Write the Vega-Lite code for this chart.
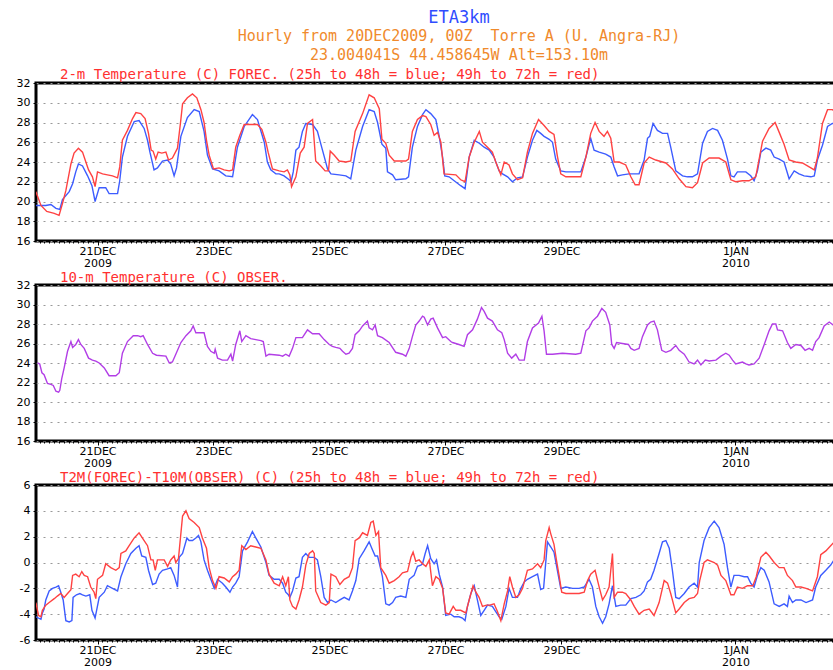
{
  "$schema": "https://vega.github.io/schema/vega-lite/v6.json",
  "background": "white",
  "padding": {"left": 0, "top": 8, "right": 0, "bottom": 0},
  "title": {
    "text": "ETA3km",
    "subtitle": ["Hourly from 20DEC2009, 00Z\u00a0 Torre A (U. Angra-RJ)", "23.004041S 44.458645W Alt=153.10m"],
    "anchor": "middle",
    "dx": 40,
    "color": "#2f4cff",
    "font": "DejaVu Sans Mono",
    "fontSize": 17,
    "fontWeight": "normal",
    "subtitleColor": "#f08a2c",
    "subtitleFont": "DejaVu Sans Mono",
    "subtitleFontSize": 15,
    "subtitleLineHeight": 19,
    "subtitlePadding": 2,
    "offset": 3
  },
  "datasets": {
    "t2m": [
      {"s":"25h to 48h","h":-1.5,"v":19.6},{"s":"25h to 48h","h":2.6,"v":19.6},{"s":"25h to 48h","h":4.7,"v":19.7},{"s":"25h to 48h","h":6.8,"v":19.3},{"s":"25h to 48h","h":8.4,"v":19.2},{"s":"25h to 48h","h":9.5,"v":20.2},{"s":"25h to 48h","h":12.3,"v":21.0},{"s":"25h to 48h","h":13.7,"v":21.8},{"s":"25h to 48h","h":15.0,"v":23.0},{"s":"25h to 48h","h":16.1,"v":23.8},{"s":"25h to 48h","h":17.8,"v":23.6},{"s":"25h to 48h","h":19.9,"v":22.6},{"s":"25h to 48h","h":21.7,"v":21.6},{"s":"25h to 48h","h":23.0,"v":20.0},{"s":"25h to 48h","h":24.7,"v":21.4},{"s":"25h to 48h","h":27.4,"v":21.4},{"s":"25h to 48h","h":28.8,"v":20.8},{"s":"25h to 48h","h":32.3,"v":20.8},{"s":"25h to 48h","h":33.2,"v":22.1},{"s":"25h to 48h","h":34.3,"v":24.5},{"s":"25h to 48h","h":36.4,"v":26.6},{"s":"25h to 48h","h":39.2,"v":28.1},{"s":"25h to 48h","h":41.2,"v":28.2},{"s":"25h to 48h","h":43.3,"v":27.4},{"s":"25h to 48h","h":44.7,"v":26.2},{"s":"25h to 48h","h":45.7,"v":25.0},{"s":"25h to 48h","h":47.4,"v":23.2},{"s":"25h to 48h","h":48.8,"v":23.4},{"s":"25h to 48h","h":50.9,"v":24.1},{"s":"25h to 48h","h":53.0,"v":24.2},{"s":"25h to 48h","h":54.3,"v":23.8},{"s":"25h to 48h","h":55.7,"v":22.6},{"s":"25h to 48h","h":56.7,"v":23.4},{"s":"25h to 48h","h":58.5,"v":26.6},{"s":"25h to 48h","h":61.2,"v":28.5},{"s":"25h to 48h","h":64.0,"v":29.3},{"s":"25h to 48h","h":66.1,"v":29.1},{"s":"25h to 48h","h":68.1,"v":27.1},{"s":"25h to 48h","h":69.5,"v":24.7},{"s":"25h to 48h","h":71.6,"v":23.3},{"s":"25h to 48h","h":74.3,"v":23.1},{"s":"25h to 48h","h":77.1,"v":22.6},{"s":"25h to 48h","h":79.9,"v":22.5},{"s":"25h to 48h","h":81.9,"v":25.5},{"s":"25h to 48h","h":84.7,"v":27.6},{"s":"25h to 48h","h":88.1,"v":28.8},{"s":"25h to 48h","h":90.2,"v":28.3},{"s":"25h to 48h","h":93.0,"v":26.0},{"s":"25h to 48h","h":94.3,"v":24.0},{"s":"25h to 48h","h":95.7,"v":23.2},{"s":"25h to 48h","h":97.8,"v":22.8},{"s":"25h to 48h","h":99.2,"v":22.8},{"s":"25h to 48h","h":101.2,"v":22.6},{"s":"25h to 48h","h":103.3,"v":22.2},{"s":"25h to 48h","h":104.1,"v":22.0},{"s":"25h to 48h","h":105.0,"v":23.0},{"s":"25h to 48h","h":106.1,"v":25.2},{"s":"25h to 48h","h":107.4,"v":25.5},{"s":"25h to 48h","h":108.8,"v":27.1},{"s":"25h to 48h","h":110.2,"v":27.9},{"s":"25h to 48h","h":113.0,"v":27.8},{"s":"25h to 48h","h":115.0,"v":27.1},{"s":"25h to 48h","h":117.1,"v":25.2},{"s":"25h to 48h","h":119.2,"v":23.3},{"s":"25h to 48h","h":120.6,"v":22.8},{"s":"25h to 48h","h":124.0,"v":22.7},{"s":"25h to 48h","h":126.8,"v":22.6},{"s":"25h to 48h","h":128.8,"v":22.3},{"s":"25h to 48h","h":130.9,"v":25.2},{"s":"25h to 48h","h":133.7,"v":27.6},{"s":"25h to 48h","h":136.4,"v":29.3},{"s":"25h to 48h","h":138.5,"v":29.1},{"s":"25h to 48h","h":139.9,"v":28.0},{"s":"25h to 48h","h":141.7,"v":25.8},{"s":"25h to 48h","h":143.3,"v":25.4},{"s":"25h to 48h","h":144.0,"v":23.0},{"s":"25h to 48h","h":146.1,"v":22.7},{"s":"25h to 48h","h":147.4,"v":22.2},{"s":"25h to 48h","h":151.6,"v":22.3},{"s":"25h to 48h","h":152.7,"v":22.5},{"s":"25h to 48h","h":154.3,"v":25.5},{"s":"25h to 48h","h":156.4,"v":27.6},{"s":"25h to 48h","h":158.5,"v":28.8},{"s":"25h to 48h","h":159.9,"v":29.3},{"s":"25h to 48h","h":161.9,"v":28.9},{"s":"25h to 48h","h":164.0,"v":28.3},{"s":"25h to 48h","h":165.4,"v":26.6},{"s":"25h to 48h","h":166.8,"v":24.5},{"s":"25h to 48h","h":167.7,"v":22.6},{"s":"25h to 48h","h":169.5,"v":22.5},{"s":"25h to 48h","h":171.6,"v":22.1},{"s":"25h to 48h","h":174.3,"v":21.6},{"s":"25h to 48h","h":176.1,"v":21.3},{"s":"25h to 48h","h":177.8,"v":24.5},{"s":"25h to 48h","h":179.9,"v":26.2},{"s":"25h to 48h","h":182.0,"v":25.9},{"s":"25h to 48h","h":184.0,"v":25.5},{"s":"25h to 48h","h":186.1,"v":25.2},{"s":"25h to 48h","h":188.1,"v":24.5},{"s":"25h to 48h","h":190.2,"v":23.1},{"s":"25h to 48h","h":191.6,"v":22.8},{"s":"25h to 48h","h":193.7,"v":22.5},{"s":"25h to 48h","h":195.7,"v":22.0},{"s":"25h to 48h","h":197.8,"v":22.4},{"s":"25h to 48h","h":199.9,"v":22.5},{"s":"25h to 48h","h":201.9,"v":24.5},{"s":"25h to 48h","h":204.0,"v":26.2},{"s":"25h to 48h","h":205.8,"v":27.2},{"s":"25h to 48h","h":207.4,"v":26.9},{"s":"25h to 48h","h":208.8,"v":26.6},{"s":"25h to 48h","h":210.9,"v":26.3},{"s":"25h to 48h","h":212.3,"v":26.0},{"s":"25h to 48h","h":213.6,"v":24.3},{"s":"25h to 48h","h":215.7,"v":23.1},{"s":"25h to 48h","h":217.8,"v":23.0},{"s":"25h to 48h","h":220.6,"v":23.0},{"s":"25h to 48h","h":224.0,"v":23.0},{"s":"25h to 48h","h":226.1,"v":24.5},{"s":"25h to 48h","h":228.1,"v":26.4},{"s":"25h to 48h","h":229.5,"v":25.2},{"s":"25h to 48h","h":231.6,"v":25.0},{"s":"25h to 48h","h":234.3,"v":24.8},{"s":"25h to 48h","h":236.4,"v":24.5},{"s":"25h to 48h","h":237.8,"v":23.5},{"s":"25h to 48h","h":239.2,"v":22.6},{"s":"25h to 48h","h":241.2,"v":22.7},{"s":"25h to 48h","h":244.0,"v":22.8},{"s":"25h to 48h","h":248.1,"v":22.8},{"s":"25h to 48h","h":250.2,"v":24.2},{"s":"25h to 48h","h":251.6,"v":26.4},{"s":"25h to 48h","h":252.5,"v":26.6},{"s":"25h to 48h","h":253.9,"v":27.9},{"s":"25h to 48h","h":255.7,"v":27.2},{"s":"25h to 48h","h":257.8,"v":26.9},{"s":"25h to 48h","h":259.9,"v":26.9},{"s":"25h to 48h","h":261.2,"v":25.5},{"s":"25h to 48h","h":263.3,"v":23.1},{"s":"25h to 48h","h":266.1,"v":22.6},{"s":"25h to 48h","h":268.1,"v":22.5},{"s":"25h to 48h","h":270.2,"v":22.5},{"s":"25h to 48h","h":272.3,"v":22.8},{"s":"25h to 48h","h":274.4,"v":25.9},{"s":"25h to 48h","h":276.4,"v":27.1},{"s":"25h to 48h","h":278.5,"v":27.4},{"s":"25h to 48h","h":280.6,"v":27.2},{"s":"25h to 48h","h":282.6,"v":26.2},{"s":"25h to 48h","h":284.7,"v":24.3},{"s":"25h to 48h","h":286.1,"v":22.6},{"s":"25h to 48h","h":287.4,"v":22.5},{"s":"25h to 48h","h":288.8,"v":23.0},{"s":"25h to 48h","h":292.3,"v":23.0},{"s":"25h to 48h","h":294.3,"v":22.6},{"s":"25h to 48h","h":295.7,"v":22.1},{"s":"25h to 48h","h":297.1,"v":23.1},{"s":"25h to 48h","h":298.5,"v":25.0},{"s":"25h to 48h","h":300.6,"v":25.4},{"s":"25h to 48h","h":302.6,"v":25.2},{"s":"25h to 48h","h":304.0,"v":24.5},{"s":"25h to 48h","h":306.1,"v":24.3},{"s":"25h to 48h","h":308.1,"v":24.0},{"s":"25h to 48h","h":310.2,"v":22.3},{"s":"25h to 48h","h":312.3,"v":23.1},{"s":"25h to 48h","h":314.3,"v":22.8},{"s":"25h to 48h","h":316.4,"v":22.6},{"s":"25h to 48h","h":319.2,"v":22.5},{"s":"25h to 48h","h":320.6,"v":22.6},{"s":"25h to 48h","h":321.9,"v":24.2},{"s":"25h to 48h","h":324.0,"v":25.7},{"s":"25h to 48h","h":326.1,"v":27.6},{"s":"25h to 48h","h":328.1,"v":27.9},{"s":"25h to 48h","h":329.4,"v":27.9},
      {"s":"49h to 72h","h":-1.5,"v":21.0},{"s":"49h to 72h","h":0.6,"v":19.6},{"s":"49h to 72h","h":3.0,"v":19.0},{"s":"49h to 72h","h":6.1,"v":18.8},{"s":"49h to 72h","h":8.1,"v":18.6},{"s":"49h to 72h","h":9.5,"v":19.8},{"s":"49h to 72h","h":10.9,"v":21.1},{"s":"49h to 72h","h":13.0,"v":23.8},{"s":"49h to 72h","h":14.3,"v":24.9},{"s":"49h to 72h","h":16.1,"v":25.4},{"s":"49h to 72h","h":17.8,"v":25.0},{"s":"49h to 72h","h":18.9,"v":24.2},{"s":"49h to 72h","h":20.3,"v":23.2},{"s":"49h to 72h","h":21.9,"v":22.5},{"s":"49h to 72h","h":23.0,"v":21.5},{"s":"49h to 72h","h":24.0,"v":23.0},{"s":"49h to 72h","h":26.1,"v":22.8},{"s":"49h to 72h","h":28.1,"v":22.7},{"s":"49h to 72h","h":30.2,"v":22.6},{"s":"49h to 72h","h":32.3,"v":22.4},{"s":"49h to 72h","h":33.2,"v":23.5},{"s":"49h to 72h","h":34.3,"v":26.2},{"s":"49h to 72h","h":36.4,"v":27.2},{"s":"49h to 72h","h":38.5,"v":28.4},{"s":"49h to 72h","h":39.9,"v":29.0},{"s":"49h to 72h","h":41.9,"v":28.9},{"s":"49h to 72h","h":43.7,"v":28.4},{"s":"49h to 72h","h":45.1,"v":26.9},{"s":"49h to 72h","h":46.2,"v":25.2},{"s":"49h to 72h","h":47.0,"v":25.1},{"s":"49h to 72h","h":48.1,"v":24.3},{"s":"49h to 72h","h":49.1,"v":25.0},{"s":"49h to 72h","h":50.6,"v":24.9},{"s":"49h to 72h","h":52.3,"v":25.0},{"s":"49h to 72h","h":53.4,"v":24.2},{"s":"49h to 72h","h":55.0,"v":24.4},{"s":"49h to 72h","h":57.1,"v":25.4},{"s":"49h to 72h","h":58.5,"v":28.3},{"s":"49h to 72h","h":59.2,"v":29.9},{"s":"49h to 72h","h":61.2,"v":30.5},{"s":"49h to 72h","h":63.3,"v":30.9},{"s":"49h to 72h","h":65.1,"v":30.5},{"s":"49h to 72h","h":66.8,"v":29.3},{"s":"49h to 72h","h":68.1,"v":28.0},{"s":"49h to 72h","h":69.1,"v":26.2},{"s":"49h to 72h","h":70.2,"v":24.7},{"s":"49h to 72h","h":72.0,"v":23.3},{"s":"49h to 72h","h":74.3,"v":23.4},{"s":"49h to 72h","h":76.4,"v":23.2},{"s":"49h to 72h","h":78.5,"v":23.1},{"s":"49h to 72h","h":79.9,"v":23.2},{"s":"49h to 72h","h":81.2,"v":25.5},{"s":"49h to 72h","h":82.9,"v":26.7},{"s":"49h to 72h","h":84.7,"v":27.8},{"s":"49h to 72h","h":87.4,"v":27.8},{"s":"49h to 72h","h":90.2,"v":27.8},{"s":"49h to 72h","h":92.0,"v":27.3},{"s":"49h to 72h","h":93.7,"v":26.0},{"s":"49h to 72h","h":94.6,"v":25.0},{"s":"49h to 72h","h":96.4,"v":23.3},{"s":"49h to 72h","h":99.2,"v":23.1},{"s":"49h to 72h","h":101.2,"v":23.0},{"s":"49h to 72h","h":102.6,"v":23.2},{"s":"49h to 72h","h":103.6,"v":22.7},{"s":"49h to 72h","h":104.3,"v":21.5},{"s":"49h to 72h","h":106.1,"v":22.5},{"s":"49h to 72h","h":107.9,"v":24.9},{"s":"49h to 72h","h":109.5,"v":25.5},{"s":"49h to 72h","h":110.9,"v":27.9},{"s":"49h to 72h","h":113.0,"v":28.3},{"s":"49h to 72h","h":114.3,"v":24.1},{"s":"49h to 72h","h":116.4,"v":23.6},{"s":"49h to 72h","h":118.2,"v":23.1},{"s":"49h to 72h","h":119.6,"v":23.1},{"s":"49h to 72h","h":120.3,"v":25.1},{"s":"49h to 72h","h":121.9,"v":24.7},{"s":"49h to 72h","h":124.0,"v":24.1},{"s":"49h to 72h","h":126.8,"v":24.0},{"s":"49h to 72h","h":128.8,"v":24.1},{"s":"49h to 72h","h":130.6,"v":27.1},{"s":"49h to 72h","h":133.7,"v":28.9},{"s":"49h to 72h","h":136.4,"v":30.8},{"s":"49h to 72h","h":138.5,"v":30.5},{"s":"49h to 72h","h":140.6,"v":29.4},{"s":"49h to 72h","h":141.7,"v":26.3},{"s":"49h to 72h","h":143.3,"v":25.9},{"s":"49h to 72h","h":144.7,"v":24.7},{"s":"49h to 72h","h":146.8,"v":24.1},{"s":"49h to 72h","h":151.6,"v":24.1},{"s":"49h to 72h","h":152.7,"v":24.3},{"s":"49h to 72h","h":154.3,"v":27.1},{"s":"49h to 72h","h":156.4,"v":28.3},{"s":"49h to 72h","h":158.5,"v":28.7},{"s":"49h to 72h","h":159.9,"v":28.6},{"s":"49h to 72h","h":161.9,"v":27.8},{"s":"49h to 72h","h":163.3,"v":26.7},{"s":"49h to 72h","h":164.7,"v":27.0},{"s":"49h to 72h","h":166.1,"v":26.0},{"s":"49h to 72h","h":167.4,"v":22.8},{"s":"49h to 72h","h":172.3,"v":22.7},{"s":"49h to 72h","h":174.3,"v":22.2},{"s":"49h to 72h","h":176.1,"v":22.0},{"s":"49h to 72h","h":177.8,"v":24.5},{"s":"49h to 72h","h":179.9,"v":26.0},{"s":"49h to 72h","h":182.0,"v":27.1},{"s":"49h to 72h","h":183.3,"v":26.0},{"s":"49h to 72h","h":185.4,"v":25.5},{"s":"49h to 72h","h":187.4,"v":25.0},{"s":"49h to 72h","h":188.8,"v":24.0},{"s":"49h to 72h","h":190.9,"v":22.7},{"s":"49h to 72h","h":192.3,"v":24.0},{"s":"49h to 72h","h":194.3,"v":23.7},{"s":"49h to 72h","h":195.7,"v":22.8},{"s":"49h to 72h","h":197.8,"v":22.2},{"s":"49h to 72h","h":199.9,"v":22.4},{"s":"49h to 72h","h":201.9,"v":25.0},{"s":"49h to 72h","h":204.0,"v":26.9},{"s":"49h to 72h","h":206.5,"v":28.3},{"s":"49h to 72h","h":208.8,"v":27.7},{"s":"49h to 72h","h":210.9,"v":27.1},{"s":"49h to 72h","h":212.9,"v":26.8},{"s":"49h to 72h","h":214.3,"v":24.6},{"s":"49h to 72h","h":215.7,"v":22.8},{"s":"49h to 72h","h":217.8,"v":22.5},{"s":"49h to 72h","h":220.6,"v":22.5},{"s":"49h to 72h","h":224.0,"v":22.5},{"s":"49h to 72h","h":226.1,"v":24.5},{"s":"49h to 72h","h":228.1,"v":26.9},{"s":"49h to 72h","h":229.9,"v":28.0},{"s":"49h to 72h","h":231.6,"v":27.1},{"s":"49h to 72h","h":233.6,"v":26.6},{"s":"49h to 72h","h":235.0,"v":27.1},{"s":"49h to 72h","h":236.4,"v":26.4},{"s":"49h to 72h","h":237.8,"v":24.0},{"s":"49h to 72h","h":239.9,"v":24.0},{"s":"49h to 72h","h":242.6,"v":23.7},{"s":"49h to 72h","h":244.7,"v":22.5},{"s":"49h to 72h","h":246.5,"v":21.7},{"s":"49h to 72h","h":248.1,"v":21.7},{"s":"49h to 72h","h":250.2,"v":23.9},{"s":"49h to 72h","h":252.3,"v":24.5},{"s":"49h to 72h","h":255.0,"v":24.2},{"s":"49h to 72h","h":259.2,"v":23.9},{"s":"49h to 72h","h":261.9,"v":23.3},{"s":"49h to 72h","h":264.7,"v":22.3},{"s":"49h to 72h","h":267.5,"v":21.5},{"s":"49h to 72h","h":270.2,"v":21.4},{"s":"49h to 72h","h":272.3,"v":21.9},{"s":"49h to 72h","h":274.4,"v":23.9},{"s":"49h to 72h","h":277.1,"v":24.4},{"s":"49h to 72h","h":281.2,"v":24.4},{"s":"49h to 72h","h":284.0,"v":24.0},{"s":"49h to 72h","h":286.1,"v":22.2},{"s":"49h to 72h","h":288.1,"v":22.0},{"s":"49h to 72h","h":290.9,"v":22.1},{"s":"49h to 72h","h":293.6,"v":22.1},{"s":"49h to 72h","h":296.4,"v":22.5},{"s":"49h to 72h","h":299.2,"v":26.1},{"s":"49h to 72h","h":301.9,"v":27.4},{"s":"49h to 72h","h":304.4,"v":28.0},{"s":"49h to 72h","h":306.1,"v":27.0},{"s":"49h to 72h","h":308.1,"v":25.8},{"s":"49h to 72h","h":310.2,"v":24.2},{"s":"49h to 72h","h":312.9,"v":24.0},{"s":"49h to 72h","h":315.7,"v":23.9},{"s":"49h to 72h","h":318.5,"v":23.5},{"s":"49h to 72h","h":320.6,"v":23.2},{"s":"49h to 72h","h":321.9,"v":24.4},{"s":"49h to 72h","h":324.0,"v":27.9},{"s":"49h to 72h","h":326.1,"v":29.3},{"s":"49h to 72h","h":328.1,"v":29.3},{"s":"49h to 72h","h":329.4,"v":29.1}
    ],
    "t10m": [
      {"h":-0.8,"v":24.0},{"h":0.1,"v":23.9},{"h":1.0,"v":23.0},{"h":1.9,"v":22.8},{"h":3.3,"v":21.9},{"h":4.7,"v":21.8},{"h":5.7,"v":21.7},{"h":6.8,"v":21.1},{"h":7.9,"v":21.0},{"h":8.4,"v":21.2},{"h":9.2,"v":22.4},{"h":10.2,"v":23.5},{"h":11.6,"v":25.2},{"h":13.0,"v":26.2},{"h":13.7,"v":25.6},{"h":15.0,"v":25.9},{"h":16.1,"v":26.4},{"h":17.1,"v":25.9},{"h":18.5,"v":25.5},{"h":20.3,"v":24.5},{"h":21.9,"v":24.3},{"h":23.3,"v":24.2},{"h":24.7,"v":24.0},{"h":26.8,"v":23.5},{"h":28.8,"v":22.7},{"h":31.6,"v":22.7},{"h":33.0,"v":23.0},{"h":34.3,"v":25.0},{"h":36.4,"v":26.2},{"h":38.8,"v":26.8},{"h":40.6,"v":26.8},{"h":41.9,"v":26.7},{"h":42.9,"v":26.8},{"h":44.7,"v":25.9},{"h":46.8,"v":25.0},{"h":48.4,"v":24.8},{"h":52.3,"v":24.7},{"h":53.7,"v":24.0},{"h":55.0,"v":24.1},{"h":56.4,"v":24.9},{"h":58.5,"v":26.1},{"h":60.6,"v":26.8},{"h":62.6,"v":27.3},{"h":63.6,"v":27.8},{"h":64.7,"v":27.1},{"h":66.8,"v":27.1},{"h":68.1,"v":27.1},{"h":69.5,"v":25.7},{"h":70.9,"v":25.2},{"h":72.3,"v":25.0},{"h":72.7,"v":25.4},{"h":73.7,"v":24.5},{"h":75.7,"v":24.3},{"h":77.8,"v":24.3},{"h":79.2,"v":24.9},{"h":79.9,"v":24.2},{"h":81.2,"v":25.9},{"h":82.9,"v":27.3},{"h":83.7,"v":26.2},{"h":85.4,"v":26.8},{"h":87.4,"v":26.5},{"h":89.5,"v":26.4},{"h":91.6,"v":26.3},{"h":92.6,"v":26.2},{"h":93.7,"v":24.7},{"h":95.0,"v":24.9},{"h":99.2,"v":24.8},{"h":100.6,"v":24.7},{"h":101.9,"v":24.9},{"h":103.3,"v":24.7},{"h":104.7,"v":25.5},{"h":106.1,"v":26.6},{"h":108.8,"v":26.6},{"h":110.9,"v":27.4},{"h":113.0,"v":27.0},{"h":115.7,"v":27.0},{"h":117.8,"v":26.4},{"h":119.9,"v":25.9},{"h":121.2,"v":25.7},{"h":122.6,"v":25.6},{"h":124.3,"v":25.5},{"h":125.4,"v":25.2},{"h":126.8,"v":24.9},{"h":128.1,"v":25.0},{"h":129.5,"v":25.5},{"h":130.6,"v":26.9},{"h":132.3,"v":27.3},{"h":133.7,"v":27.8},{"h":135.7,"v":28.3},{"h":136.4,"v":27.6},{"h":137.8,"v":27.4},{"h":138.9,"v":27.9},{"h":139.9,"v":26.8},{"h":141.9,"v":26.6},{"h":144.7,"v":26.1},{"h":147.4,"v":25.1},{"h":150.2,"v":24.9},{"h":151.6,"v":24.7},{"h":153.0,"v":25.5},{"h":154.3,"v":26.7},{"h":155.7,"v":27.9},{"h":157.1,"v":28.3},{"h":158.5,"v":28.8},{"h":159.2,"v":28.7},{"h":160.6,"v":27.9},{"h":161.9,"v":28.5},{"h":162.9,"v":28.6},{"h":164.7,"v":27.6},{"h":166.8,"v":26.6},{"h":168.1,"v":26.7},{"h":170.2,"v":26.2},{"h":170.9,"v":26.1},{"h":173.6,"v":25.9},{"h":175.7,"v":25.7},{"h":177.1,"v":26.9},{"h":179.2,"v":27.4},{"h":181.2,"v":28.5},{"h":182.9,"v":29.7},{"h":184.0,"v":29.3},{"h":185.4,"v":28.6},{"h":187.4,"v":28.3},{"h":189.5,"v":27.4},{"h":191.3,"v":27.1},{"h":192.3,"v":26.4},{"h":193.7,"v":25.0},{"h":195.4,"v":24.5},{"h":197.1,"v":24.9},{"h":198.5,"v":24.3},{"h":200.6,"v":24.3},{"h":201.9,"v":26.2},{"h":204.0,"v":27.6},{"h":206.5,"v":28.1},{"h":207.9,"v":28.8},{"h":208.8,"v":27.3},{"h":209.8,"v":24.9},{"h":212.3,"v":24.9},{"h":216.4,"v":25.0},{"h":221.9,"v":24.9},{"h":224.0,"v":25.0},{"h":226.1,"v":27.3},{"h":227.4,"v":27.6},{"h":228.8,"v":28.3},{"h":230.9,"v":28.8},{"h":232.7,"v":29.6},{"h":234.3,"v":29.2},{"h":236.0,"v":27.9},{"h":236.8,"v":25.9},{"h":237.8,"v":25.5},{"h":238.8,"v":26.1},{"h":241.2,"v":26.0},{"h":243.7,"v":25.9},{"h":244.7,"v":25.5},{"h":246.1,"v":25.3},{"h":248.1,"v":25.5},{"h":249.5,"v":26.7},{"h":251.6,"v":27.9},{"h":252.9,"v":28.2},{"h":254.3,"v":28.3},{"h":255.7,"v":27.4},{"h":257.5,"v":25.3},{"h":259.2,"v":25.1},{"h":261.2,"v":25.3},{"h":263.3,"v":25.8},{"h":264.7,"v":25.3},{"h":266.8,"v":24.9},{"h":268.8,"v":24.1},{"h":270.9,"v":23.9},{"h":272.3,"v":24.3},{"h":273.7,"v":23.8},{"h":275.5,"v":24.3},{"h":277.1,"v":24.2},{"h":279.9,"v":24.3},{"h":282.0,"v":24.7},{"h":284.0,"v":25.0},{"h":285.4,"v":24.8},{"h":286.8,"v":24.3},{"h":288.1,"v":23.9},{"h":289.5,"v":24.0},{"h":290.9,"v":24.1},{"h":292.3,"v":23.9},{"h":293.6,"v":23.8},{"h":295.7,"v":23.9},{"h":297.8,"v":24.5},{"h":299.9,"v":25.9},{"h":301.9,"v":27.3},{"h":303.3,"v":28.0},{"h":304.7,"v":28.0},{"h":305.4,"v":27.4},{"h":307.5,"v":27.3},{"h":309.5,"v":26.1},{"h":310.9,"v":25.5},{"h":313.0,"v":25.9},{"h":315.1,"v":25.8},{"h":316.8,"v":25.3},{"h":318.5,"v":25.5},{"h":319.9,"v":25.3},{"h":321.2,"v":26.2},{"h":322.6,"v":26.6},{"h":324.7,"v":27.8},{"h":326.8,"v":28.2},{"h":328.4,"v":27.9},{"h":329.4,"v":27.7}
    ],
    "diff": [
      {"s":"25h to 48h","h":-1.5,"v":-4.2},{"s":"25h to 48h","h":0.6,"v":-4.4},{"s":"25h to 48h","h":1.2,"v":-3.9},{"s":"25h to 48h","h":1.9,"v":-3.6},{"s":"25h to 48h","h":2.6,"v":-2.9},{"s":"25h to 48h","h":4.0,"v":-2.2},{"s":"25h to 48h","h":5.4,"v":-2.0},{"s":"25h to 48h","h":6.8,"v":-1.9},{"s":"25h to 48h","h":7.9,"v":-1.8},{"s":"25h to 48h","h":8.8,"v":-2.3},{"s":"25h to 48h","h":9.8,"v":-2.9},{"s":"25h to 48h","h":10.9,"v":-4.5},{"s":"25h to 48h","h":12.3,"v":-4.6},{"s":"25h to 48h","h":13.4,"v":-4.5},{"s":"25h to 48h","h":13.9,"v":-2.7},{"s":"25h to 48h","h":15.3,"v":-2.5},{"s":"25h to 48h","h":16.7,"v":-2.4},{"s":"25h to 48h","h":17.8,"v":-2.5},{"s":"25h to 48h","h":19.2,"v":-2.6},{"s":"25h to 48h","h":20.8,"v":-2.5},{"s":"25h to 48h","h":21.7,"v":-3.7},{"s":"25h to 48h","h":23.0,"v":-4.3},{"s":"25h to 48h","h":24.7,"v":-2.7},{"s":"25h to 48h","h":26.8,"v":-2.3},{"s":"25h to 48h","h":28.1,"v":-1.8},{"s":"25h to 48h","h":30.2,"v":-2.0},{"s":"25h to 48h","h":32.3,"v":-2.2},{"s":"25h to 48h","h":33.7,"v":-1.1},{"s":"25h to 48h","h":35.7,"v":-0.1},{"s":"25h to 48h","h":37.8,"v":0.7},{"s":"25h to 48h","h":39.9,"v":1.1},{"s":"25h to 48h","h":41.2,"v":1.3},{"s":"25h to 48h","h":42.3,"v":0.5},{"s":"25h to 48h","h":44.0,"v":0.4},{"s":"25h to 48h","h":45.1,"v":-0.6},{"s":"25h to 48h","h":46.8,"v":-1.7},{"s":"25h to 48h","h":48.1,"v":-1.6},{"s":"25h to 48h","h":49.5,"v":-0.9},{"s":"25h to 48h","h":50.9,"v":-0.6},{"s":"25h to 48h","h":53.0,"v":-0.5},{"s":"25h to 48h","h":54.3,"v":-0.4},{"s":"25h to 48h","h":55.7,"v":-1.0},{"s":"25h to 48h","h":57.1,"v":-1.9},{"s":"25h to 48h","h":57.8,"v":0.4},{"s":"25h to 48h","h":59.2,"v":0.7},{"s":"25h to 48h","h":61.0,"v":1.9},{"s":"25h to 48h","h":61.9,"v":1.7},{"s":"25h to 48h","h":63.3,"v":1.7},{"s":"25h to 48h","h":64.7,"v":1.9},{"s":"25h to 48h","h":65.8,"v":2.1},{"s":"25h to 48h","h":66.8,"v":1.6},{"s":"25h to 48h","h":68.1,"v":0.2},{"s":"25h to 48h","h":69.5,"v":-0.6},{"s":"25h to 48h","h":70.9,"v":-1.3},{"s":"25h to 48h","h":72.3,"v":-2.0},{"s":"25h to 48h","h":73.7,"v":-1.3},{"s":"25h to 48h","h":75.7,"v":-1.6},{"s":"25h to 48h","h":77.1,"v":-1.9},{"s":"25h to 48h","h":78.8,"v":-2.3},{"s":"25h to 48h","h":79.9,"v":-1.9},{"s":"25h to 48h","h":81.2,"v":-1.6},{"s":"25h to 48h","h":82.6,"v":-1.1},{"s":"25h to 48h","h":84.0,"v":0.9},{"s":"25h to 48h","h":86.1,"v":1.6},{"s":"25h to 48h","h":88.1,"v":2.4},{"s":"25h to 48h","h":89.5,"v":1.9},{"s":"25h to 48h","h":91.6,"v":1.2},{"s":"25h to 48h","h":93.7,"v":0.0},{"s":"25h to 48h","h":95.0,"v":-1.0},{"s":"25h to 48h","h":97.1,"v":-1.3},{"s":"25h to 48h","h":99.2,"v":-1.3},{"s":"25h to 48h","h":100.6,"v":-1.6},{"s":"25h to 48h","h":101.9,"v":-2.3},{"s":"25h to 48h","h":103.0,"v":-2.5},{"s":"25h to 48h","h":103.6,"v":-2.7},{"s":"25h to 48h","h":104.7,"v":-2.2},{"s":"25h to 48h","h":106.1,"v":-1.2},{"s":"25h to 48h","h":107.4,"v":-1.1},{"s":"25h to 48h","h":108.8,"v":0.4},{"s":"25h to 48h","h":110.2,"v":0.7},{"s":"25h to 48h","h":111.6,"v":0.4},{"s":"25h to 48h","h":113.7,"v":0.4},{"s":"25h to 48h","h":115.0,"v":0.2},{"s":"25h to 48h","h":116.4,"v":-1.1},{"s":"25h to 48h","h":117.8,"v":-2.7},{"s":"25h to 48h","h":119.2,"v":-3.1},{"s":"25h to 48h","h":120.6,"v":-2.9},{"s":"25h to 48h","h":122.6,"v":-3.1},{"s":"25h to 48h","h":124.3,"v":-2.9},{"s":"25h to 48h","h":126.1,"v":-2.7},{"s":"25h to 48h","h":128.1,"v":-2.9},{"s":"25h to 48h","h":129.5,"v":-2.2},{"s":"25h to 48h","h":130.9,"v":-1.4},{"s":"25h to 48h","h":132.3,"v":0.3},{"s":"25h to 48h","h":134.3,"v":0.9},{"s":"25h to 48h","h":136.4,"v":1.6},{"s":"25h to 48h","h":137.5,"v":1.1},{"s":"25h to 48h","h":138.9,"v":0.5},{"s":"25h to 48h","h":139.9,"v":0.5},{"s":"25h to 48h","h":140.8,"v":-0.2},{"s":"25h to 48h","h":141.9,"v":-1.1},{"s":"25h to 48h","h":143.3,"v":-3.2},{"s":"25h to 48h","h":144.7,"v":-3.3},{"s":"25h to 48h","h":146.1,"v":-3.1},{"s":"25h to 48h","h":147.4,"v":-2.7},{"s":"25h to 48h","h":149.5,"v":-2.6},{"s":"25h to 48h","h":151.6,"v":-2.7},{"s":"25h to 48h","h":153.0,"v":-1.3},{"s":"25h to 48h","h":155.0,"v":-1.0},{"s":"25h to 48h","h":156.4,"v":-0.3},{"s":"25h to 48h","h":157.8,"v":-0.2},{"s":"25h to 48h","h":158.5,"v":-0.1},{"s":"25h to 48h","h":159.6,"v":0.7},{"s":"25h to 48h","h":160.6,"v":1.3},{"s":"25h to 48h","h":161.9,"v":0.3},{"s":"25h to 48h","h":163.3,"v":-0.1},{"s":"25h to 48h","h":164.3,"v":0.2},{"s":"25h to 48h","h":165.4,"v":-0.9},{"s":"25h to 48h","h":166.8,"v":-1.9},{"s":"25h to 48h","h":168.1,"v":-4.1},{"s":"25h to 48h","h":170.2,"v":-4.0},{"s":"25h to 48h","h":171.6,"v":-4.2},{"s":"25h to 48h","h":173.6,"v":-4.2},{"s":"25h to 48h","h":175.0,"v":-4.3},{"s":"25h to 48h","h":176.1,"v":-4.5},{"s":"25h to 48h","h":177.1,"v":-3.4},{"s":"25h to 48h","h":178.5,"v":-2.4},{"s":"25h to 48h","h":179.9,"v":-1.8},{"s":"25h to 48h","h":181.2,"v":-2.9},{"s":"25h to 48h","h":182.6,"v":-4.1},{"s":"25h to 48h","h":184.0,"v":-3.7},{"s":"25h to 48h","h":185.4,"v":-3.3},{"s":"25h to 48h","h":187.4,"v":-3.4},{"s":"25h to 48h","h":188.8,"v":-3.8},{"s":"25h to 48h","h":190.2,"v":-4.2},{"s":"25h to 48h","h":191.3,"v":-4.4},{"s":"25h to 48h","h":193.0,"v":-3.4},{"s":"25h to 48h","h":194.3,"v":-2.0},{"s":"25h to 48h","h":195.7,"v":-2.7},{"s":"25h to 48h","h":197.8,"v":-2.7},{"s":"25h to 48h","h":199.2,"v":-2.0},{"s":"25h to 48h","h":200.6,"v":-1.5},{"s":"25h to 48h","h":201.9,"v":-1.3},{"s":"25h to 48h","h":204.0,"v":-1.1},{"s":"25h to 48h","h":206.1,"v":-0.9},{"s":"25h to 48h","h":207.4,"v":-2.1},{"s":"25h to 48h","h":208.6,"v":-2.0},{"s":"25h to 48h","h":210.2,"v":1.6},{"s":"25h to 48h","h":211.6,"v":1.2},{"s":"25h to 48h","h":212.9,"v":0.8},{"s":"25h to 48h","h":214.3,"v":-0.6},{"s":"25h to 48h","h":215.7,"v":-2.0},{"s":"25h to 48h","h":217.8,"v":-1.9},{"s":"25h to 48h","h":220.6,"v":-2.0},{"s":"25h to 48h","h":223.3,"v":-2.0},{"s":"25h to 48h","h":225.4,"v":-1.9},{"s":"25h to 48h","h":227.4,"v":-1.3},{"s":"25h to 48h","h":228.8,"v":-1.9},{"s":"25h to 48h","h":230.2,"v":-3.4},{"s":"25h to 48h","h":231.6,"v":-4.2},{"s":"25h to 48h","h":233.0,"v":-4.7},{"s":"25h to 48h","h":234.3,"v":-4.2},{"s":"25h to 48h","h":235.7,"v":-3.2},{"s":"25h to 48h","h":237.1,"v":-1.8},{"s":"25h to 48h","h":238.5,"v":-3.4},{"s":"25h to 48h","h":240.5,"v":-3.3},{"s":"25h to 48h","h":242.6,"v":-3.3},{"s":"25h to 48h","h":244.7,"v":-2.8},{"s":"25h to 48h","h":246.8,"v":-2.7},{"s":"25h to 48h","h":248.8,"v":-2.5},{"s":"25h to 48h","h":250.2,"v":-2.2},{"s":"25h to 48h","h":251.6,"v":-1.5},{"s":"25h to 48h","h":252.9,"v":-1.3},{"s":"25h to 48h","h":254.3,"v":-0.6},{"s":"25h to 48h","h":256.4,"v":0.7},{"s":"25h to 48h","h":257.8,"v":1.6},{"s":"25h to 48h","h":259.2,"v":1.7},{"s":"25h to 48h","h":260.6,"v":1.1},{"s":"25h to 48h","h":261.9,"v":-0.6},{"s":"25h to 48h","h":263.3,"v":-2.7},{"s":"25h to 48h","h":264.7,"v":-2.8},{"s":"25h to 48h","h":266.8,"v":-2.4},{"s":"25h to 48h","h":268.8,"v":-1.9},{"s":"25h to 48h","h":270.9,"v":-1.6},{"s":"25h to 48h","h":272.3,"v":-1.9},{"s":"25h to 48h","h":273.0,"v":0.0},{"s":"25h to 48h","h":275.0,"v":1.7},{"s":"25h to 48h","h":277.1,"v":2.7},{"s":"25h to 48h","h":279.2,"v":3.2},{"s":"25h to 48h","h":281.2,"v":2.7},{"s":"25h to 48h","h":283.3,"v":1.4},{"s":"25h to 48h","h":284.7,"v":-0.4},{"s":"25h to 48h","h":286.1,"v":-1.9},{"s":"25h to 48h","h":287.4,"v":-1.0},{"s":"25h to 48h","h":289.5,"v":-1.0},{"s":"25h to 48h","h":291.6,"v":-1.1},{"s":"25h to 48h","h":293.0,"v":-1.1},{"s":"25h to 48h","h":294.3,"v":-1.6},{"s":"25h to 48h","h":295.7,"v":-1.9},{"s":"25h to 48h","h":297.1,"v":-1.0},{"s":"25h to 48h","h":298.5,"v":-0.4},{"s":"25h to 48h","h":299.9,"v":-0.6},{"s":"25h to 48h","h":301.9,"v":-1.5},{"s":"25h to 48h","h":304.0,"v":-3.2},{"s":"25h to 48h","h":306.1,"v":-3.4},{"s":"25h to 48h","h":308.1,"v":-3.2},{"s":"25h to 48h","h":309.5,"v":-3.4},{"s":"25h to 48h","h":310.2,"v":-2.6},{"s":"25h to 48h","h":311.6,"v":-3.1},{"s":"25h to 48h","h":313.0,"v":-2.9},{"s":"25h to 48h","h":315.1,"v":-2.9},{"s":"25h to 48h","h":317.2,"v":-3.1},{"s":"25h to 48h","h":319.9,"v":-2.9},{"s":"25h to 48h","h":321.2,"v":-1.9},{"s":"25h to 48h","h":323.3,"v":-1.0},{"s":"25h to 48h","h":325.4,"v":-0.6},{"s":"25h to 48h","h":327.4,"v":-0.2},{"s":"25h to 48h","h":328.8,"v":0.2},{"s":"25h to 48h","h":329.4,"v":0.3},
      {"s":"49h to 72h","h":-1.5,"v":-3.1},{"s":"49h to 72h","h":-0.4,"v":-4.1},{"s":"49h to 72h","h":0.6,"v":-4.2},{"s":"49h to 72h","h":1.2,"v":-3.7},{"s":"49h to 72h","h":2.6,"v":-3.3},{"s":"49h to 72h","h":4.0,"v":-3.1},{"s":"49h to 72h","h":6.1,"v":-2.8},{"s":"49h to 72h","h":7.4,"v":-2.6},{"s":"49h to 72h","h":8.8,"v":-2.4},{"s":"49h to 72h","h":10.2,"v":-2.7},{"s":"49h to 72h","h":11.6,"v":-2.4},{"s":"49h to 72h","h":13.0,"v":-2.1},{"s":"49h to 72h","h":13.7,"v":-1.0},{"s":"49h to 72h","h":15.0,"v":-0.9},{"s":"49h to 72h","h":16.4,"v":-1.1},{"s":"49h to 72h","h":17.5,"v":-0.7},{"s":"49h to 72h","h":18.5,"v":-1.0},{"s":"49h to 72h","h":19.9,"v":-1.1},{"s":"49h to 72h","h":21.2,"v":-1.9},{"s":"49h to 72h","h":22.6,"v":-2.3},{"s":"49h to 72h","h":23.3,"v":-2.8},{"s":"49h to 72h","h":24.0,"v":-1.3},{"s":"49h to 72h","h":26.1,"v":-1.0},{"s":"49h to 72h","h":27.4,"v":-0.1},{"s":"49h to 72h","h":29.5,"v":-0.4},{"s":"49h to 72h","h":31.6,"v":-0.6},{"s":"49h to 72h","h":33.0,"v":-0.4},{"s":"49h to 72h","h":33.7,"v":0.7},{"s":"49h to 72h","h":35.7,"v":0.9},{"s":"49h to 72h","h":37.1,"v":1.3},{"s":"49h to 72h","h":39.2,"v":1.9},{"s":"49h to 72h","h":41.2,"v":2.3},{"s":"49h to 72h","h":43.3,"v":1.7},{"s":"49h to 72h","h":44.7,"v":1.3},{"s":"49h to 72h","h":46.1,"v":0.2},{"s":"49h to 72h","h":47.0,"v":0.2},{"s":"49h to 72h","h":47.9,"v":-0.6},{"s":"49h to 72h","h":48.8,"v":0.2},{"s":"49h to 72h","h":50.2,"v":0.2},{"s":"49h to 72h","h":51.6,"v":0.2},{"s":"49h to 72h","h":53.0,"v":-0.3},{"s":"49h to 72h","h":54.3,"v":0.2},{"s":"49h to 72h","h":55.7,"v":0.5},{"s":"49h to 72h","h":56.4,"v":0.0},{"s":"49h to 72h","h":57.5,"v":0.3},{"s":"49h to 72h","h":59.2,"v":3.6},{"s":"49h to 72h","h":60.6,"v":4.0},{"s":"49h to 72h","h":61.9,"v":3.4},{"s":"49h to 72h","h":64.0,"v":3.1},{"s":"49h to 72h","h":66.1,"v":2.7},{"s":"49h to 72h","h":67.4,"v":1.9},{"s":"49h to 72h","h":69.1,"v":1.1},{"s":"49h to 72h","h":70.2,"v":-0.4},{"s":"49h to 72h","h":71.6,"v":-1.4},{"s":"49h to 72h","h":73.0,"v":-2.0},{"s":"49h to 72h","h":74.3,"v":-1.1},{"s":"49h to 72h","h":76.4,"v":-1.2},{"s":"49h to 72h","h":78.5,"v":-1.5},{"s":"49h to 72h","h":79.9,"v":-1.1},{"s":"49h to 72h","h":81.2,"v":-0.9},{"s":"49h to 72h","h":82.6,"v":-0.6},{"s":"49h to 72h","h":83.7,"v":1.3},{"s":"49h to 72h","h":85.4,"v":1.0},{"s":"49h to 72h","h":87.4,"v":1.3},{"s":"49h to 72h","h":89.5,"v":1.2},{"s":"49h to 72h","h":91.6,"v":1.1},{"s":"49h to 72h","h":93.7,"v":0.2},{"s":"49h to 72h","h":95.0,"v":-0.9},{"s":"49h to 72h","h":97.1,"v":-1.6},{"s":"49h to 72h","h":99.2,"v":-1.8},{"s":"49h to 72h","h":100.6,"v":-1.1},{"s":"49h to 72h","h":101.9,"v":-1.8},{"s":"49h to 72h","h":103.0,"v":-1.1},{"s":"49h to 72h","h":103.6,"v":-2.9},{"s":"49h to 72h","h":104.7,"v":-3.4},{"s":"49h to 72h","h":106.1,"v":-3.6},{"s":"49h to 72h","h":107.4,"v":-2.9},{"s":"49h to 72h","h":108.8,"v":-1.9},{"s":"49h to 72h","h":110.2,"v":-0.2},{"s":"49h to 72h","h":111.6,"v":0.7},{"s":"49h to 72h","h":113.0,"v":0.9},{"s":"49h to 72h","h":113.7,"v":0.7},{"s":"49h to 72h","h":114.3,"v":-2.2},{"s":"49h to 72h","h":116.4,"v":-3.1},{"s":"49h to 72h","h":118.5,"v":-3.3},{"s":"49h to 72h","h":119.9,"v":-3.1},{"s":"49h to 72h","h":120.6,"v":-0.9},{"s":"49h to 72h","h":122.6,"v":-1.1},{"s":"49h to 72h","h":124.3,"v":-1.7},{"s":"49h to 72h","h":126.1,"v":-1.3},{"s":"49h to 72h","h":128.1,"v":-1.1},{"s":"49h to 72h","h":129.5,"v":-0.4},{"s":"49h to 72h","h":130.6,"v":1.7},{"s":"49h to 72h","h":132.3,"v":1.9},{"s":"49h to 72h","h":133.7,"v":2.3},{"s":"49h to 72h","h":135.7,"v":2.1},{"s":"49h to 72h","h":137.1,"v":3.1},{"s":"49h to 72h","h":138.1,"v":3.2},{"s":"49h to 72h","h":139.2,"v":2.1},{"s":"49h to 72h","h":140.3,"v":2.4},{"s":"49h to 72h","h":141.2,"v":-0.4},{"s":"49h to 72h","h":143.3,"v":-1.0},{"s":"49h to 72h","h":144.7,"v":-1.6},{"s":"49h to 72h","h":146.8,"v":-1.4},{"s":"49h to 72h","h":148.8,"v":-1.1},{"s":"49h to 72h","h":150.2,"v":-0.8},{"s":"49h to 72h","h":152.3,"v":-0.7},{"s":"49h to 72h","h":153.7,"v":0.4},{"s":"49h to 72h","h":154.6,"v":0.8},{"s":"49h to 72h","h":155.7,"v":0.1},{"s":"49h to 72h","h":157.1,"v":0.2},{"s":"49h to 72h","h":158.5,"v":-0.1},{"s":"49h to 72h","h":159.9,"v":-0.3},{"s":"49h to 72h","h":161.3,"v":0.2},{"s":"49h to 72h","h":162.6,"v":-1.8},{"s":"49h to 72h","h":164.0,"v":-1.1},{"s":"49h to 72h","h":165.4,"v":-1.3},{"s":"49h to 72h","h":166.8,"v":-2.0},{"s":"49h to 72h","h":168.1,"v":-3.9},{"s":"49h to 72h","h":169.5,"v":-4.0},{"s":"49h to 72h","h":171.2,"v":-3.4},{"s":"49h to 72h","h":172.3,"v":-3.7},{"s":"49h to 72h","h":174.3,"v":-3.7},{"s":"49h to 72h","h":176.4,"v":-3.9},{"s":"49h to 72h","h":177.8,"v":-2.9},{"s":"49h to 72h","h":179.4,"v":-1.8},{"s":"49h to 72h","h":180.6,"v":-2.3},{"s":"49h to 72h","h":181.9,"v":-2.7},{"s":"49h to 72h","h":183.3,"v":-3.4},{"s":"49h to 72h","h":185.0,"v":-3.3},{"s":"49h to 72h","h":186.3,"v":-3.3},{"s":"49h to 72h","h":188.1,"v":-3.2},{"s":"49h to 72h","h":189.5,"v":-3.8},{"s":"49h to 72h","h":190.9,"v":-4.5},{"s":"49h to 72h","h":192.3,"v":-3.2},{"s":"49h to 72h","h":193.7,"v":-2.2},{"s":"49h to 72h","h":194.6,"v":-1.1},{"s":"49h to 72h","h":195.7,"v":-1.9},{"s":"49h to 72h","h":197.1,"v":-2.7},{"s":"49h to 72h","h":198.5,"v":-2.5},{"s":"49h to 72h","h":199.9,"v":-2.0},{"s":"49h to 72h","h":201.9,"v":-0.6},{"s":"49h to 72h","h":204.0,"v":-0.5},{"s":"49h to 72h","h":206.1,"v":-0.1},{"s":"49h to 72h","h":207.4,"v":-0.4},{"s":"49h to 72h","h":208.8,"v":0.2},{"s":"49h to 72h","h":209.5,"v":1.7},{"s":"49h to 72h","h":210.9,"v":2.7},{"s":"49h to 72h","h":211.6,"v":2.2},{"s":"49h to 72h","h":212.9,"v":1.4},{"s":"49h to 72h","h":213.9,"v":0.2},{"s":"49h to 72h","h":215.0,"v":-1.0},{"s":"49h to 72h","h":216.1,"v":-2.3},{"s":"49h to 72h","h":217.8,"v":-2.4},{"s":"49h to 72h","h":220.6,"v":-2.4},{"s":"49h to 72h","h":223.3,"v":-2.4},{"s":"49h to 72h","h":225.4,"v":-2.3},{"s":"49h to 72h","h":226.8,"v":-1.4},{"s":"49h to 72h","h":228.1,"v":-0.9},{"s":"49h to 72h","h":229.9,"v":-0.6},{"s":"49h to 72h","h":231.6,"v":-1.9},{"s":"49h to 72h","h":233.0,"v":-2.9},{"s":"49h to 72h","h":234.3,"v":-2.5},{"s":"49h to 72h","h":235.7,"v":-1.9},{"s":"49h to 72h","h":237.1,"v":0.7},{"s":"49h to 72h","h":237.8,"v":-2.7},{"s":"49h to 72h","h":239.2,"v":-2.3},{"s":"49h to 72h","h":241.2,"v":-2.3},{"s":"49h to 72h","h":242.6,"v":-2.4},{"s":"49h to 72h","h":244.7,"v":-2.9},{"s":"49h to 72h","h":246.1,"v":-3.4},{"s":"49h to 72h","h":248.1,"v":-4.0},{"s":"49h to 72h","h":250.2,"v":-3.7},{"s":"49h to 72h","h":252.3,"v":-3.6},{"s":"49h to 72h","h":254.3,"v":-4.1},{"s":"49h to 72h","h":256.4,"v":-3.1},{"s":"49h to 72h","h":258.5,"v":-1.4},{"s":"49h to 72h","h":259.9,"v":-1.6},{"s":"49h to 72h","h":261.2,"v":-2.4},{"s":"49h to 72h","h":263.3,"v":-3.9},{"s":"49h to 72h","h":264.7,"v":-3.6},{"s":"49h to 72h","h":266.8,"v":-3.1},{"s":"49h to 72h","h":268.8,"v":-2.8},{"s":"49h to 72h","h":270.9,"v":-2.7},{"s":"49h to 72h","h":272.3,"v":-2.4},{"s":"49h to 72h","h":273.2,"v":-1.4},{"s":"49h to 72h","h":275.0,"v":0.0},{"s":"49h to 72h","h":276.4,"v":0.2},{"s":"49h to 72h","h":279.2,"v":0.0},{"s":"49h to 72h","h":280.6,"v":-0.2},{"s":"49h to 72h","h":282.0,"v":-1.0},{"s":"49h to 72h","h":284.0,"v":-1.4},{"s":"49h to 72h","h":286.1,"v":-2.5},{"s":"49h to 72h","h":287.4,"v":-2.5},{"s":"49h to 72h","h":288.8,"v":-1.9},{"s":"49h to 72h","h":290.9,"v":-2.0},{"s":"49h to 72h","h":293.0,"v":-1.8},{"s":"49h to 72h","h":295.2,"v":-1.8},{"s":"49h to 72h","h":296.6,"v":-1.1},{"s":"49h to 72h","h":298.5,"v":0.4},{"s":"49h to 72h","h":300.6,"v":0.8},{"s":"49h to 72h","h":302.0,"v":0.5},{"s":"49h to 72h","h":304.0,"v":0.0},{"s":"49h to 72h","h":306.1,"v":-0.4},{"s":"49h to 72h","h":308.1,"v":-0.4},{"s":"49h to 72h","h":309.5,"v":-1.0},{"s":"49h to 72h","h":311.6,"v":-1.4},{"s":"49h to 72h","h":313.0,"v":-1.9},{"s":"49h to 72h","h":315.1,"v":-1.9},{"s":"49h to 72h","h":317.2,"v":-2.0},{"s":"49h to 72h","h":319.9,"v":-2.2},{"s":"49h to 72h","h":321.9,"v":-1.1},{"s":"49h to 72h","h":323.3,"v":0.6},{"s":"49h to 72h","h":325.4,"v":0.9},{"s":"49h to 72h","h":327.4,"v":1.3},{"s":"49h to 72h","h":329.4,"v":1.7}
    ]
  },
  "bounds": "flush",
  "spacing": 44,
  "vconcat": [
    {
      "width": 800,
      "height": 158,
      "title": {"text": "2-m Temperature (C) FOREC. (25h to 48h = blue; 49h to 72h = red)", "anchor": "start", "frame": "group", "dx": 24, "offset": -5},
      "data": {"name": "t2m"},
      "mark": {"type": "line", "strokeWidth": 1.4, "clip": true},
      "encoding": {
        "x": {"field": "h", "type": "quantitative", "title": null, "scale": {"domain": [-1.45, 329.6], "nice": false, "zero": false}},
        "y": {"field": "v", "type": "quantitative", "title": null, "scale": {"domain": [16, 32], "nice": false, "zero": false},
          "axis": {"values": [16, 18, 20, 22, 24, 26, 28, 30, 32]}},
        "color": {"field": "s", "type": "nominal", "scale": {"domain": ["25h to 48h", "49h to 72h"], "range": ["#3d5cff", "#ff4242"]}, "legend": null}
      }
    },
    {
      "width": 800,
      "height": 156,
      "title": {"text": "10-m Temperature (C) OBSER.", "anchor": "start", "frame": "group", "dx": 24, "offset": -6},
      "data": {"name": "t10m"},
      "mark": {"type": "line", "strokeWidth": 1.4, "clip": true, "color": "#b23ee6"},
      "encoding": {
        "x": {"field": "h", "type": "quantitative", "title": null, "scale": {"domain": [-1.45, 329.6], "nice": false, "zero": false}},
        "y": {"field": "v", "type": "quantitative", "title": null, "scale": {"domain": [16, 32], "nice": false, "zero": false},
          "axis": {"values": [16, 18, 20, 22, 24, 26, 28, 30, 32]}}
      }
    },
    {
      "width": 800,
      "height": 155,
      "title": {"text": "T2M(FOREC)-T10M(OBSER) (C) (25h to 48h = blue; 49h to 72h = red)", "anchor": "start", "frame": "group", "dx": 24, "offset": -6},
      "data": {"name": "diff"},
      "mark": {"type": "line", "strokeWidth": 1.4, "clip": true},
      "encoding": {
        "x": {"field": "h", "type": "quantitative", "title": null, "scale": {"domain": [-1.45, 329.6], "nice": false, "zero": false}},
        "y": {"field": "v", "type": "quantitative", "title": null, "scale": {"domain": [-6, 6], "nice": false, "zero": false},
          "axis": {"values": [-6, -4, -2, 0, 2, 4, 6], "labelExpr": "replace(datum.label, '\u2212', '-')"}},
        "color": {"field": "s", "type": "nominal", "scale": {"domain": ["25h to 48h", "49h to 72h"], "range": ["#3d5cff", "#ff4242"]}, "legend": null}
      }
    }
  ],
  "config": {
    "view": {"stroke": "black", "strokeWidth": 3},
    "title": {"font": "DejaVu Sans Mono", "fontSize": 14, "fontWeight": "normal", "color": "#ff3030"},
    "axis": {
      "domain": false,
      "grid": true,
      "gridColor": "#999999",
      "gridDash": [2, 5],
      "gridWidth": 1,
      "ticks": true,
      "tickColor": "black",
      "tickSize": 3,
      "labelFont": "DejaVu Sans",
      "labelFontSize": 11,
      "labelColor": "black",
      "labelPadding": 2
    },
    "axisY": {"minExtent": 34, "maxExtent": 34, "labelPadding": 3},
    "axisX": {
      "tickCount": 165,
      "labelFlush": false,
      "labelOverlap": false,
      "labelPadding": 0,
      "labelLineHeight": 12,
      "labelExpr": "datum.value == 24 ? ['21DEC','2009'] : datum.value == 72 ? '23DEC' : datum.value == 120 ? '25DEC' : datum.value == 168 ? '27DEC' : datum.value == 216 ? '29DEC' : datum.value == 288 ? ['1JAN','2010'] : ''",
      "gridOpacity": {"condition": {"test": "indexof([24,72,120,168,216,288], datum.value) >= 0", "value": 1}, "value": 0},
      "tickSize": {"condition": {"test": "indexof([24,72,120,168,216,288], datum.value) >= 0", "value": 4}, "value": 2}
    }
  }
}
